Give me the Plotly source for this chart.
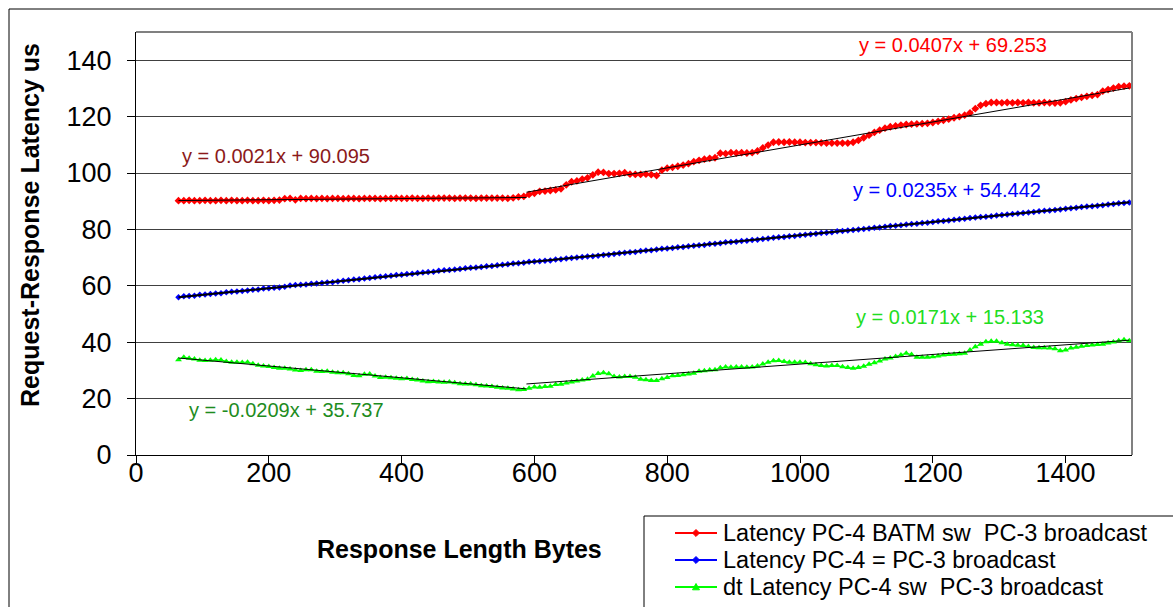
import plotly.graph_objects as go

# Response length in bytes (one sample every 8 bytes)
response_bytes = list(range(64, 1497, 8))

# Latency PC-4 BATM sw  PC-3 broadcast
latency_batm = [
    90.2, 90.2, 90.3, 90.2, 90.2, 90.3, 90.2, 90.2, 90.3, 90.2,
    90.3, 90.2, 90.2, 90.3, 90.2, 90.2, 90.3, 90.2, 90.3, 90.4,
    90.9, 91.0, 90.5, 91.0, 90.9, 91.0, 90.9, 91.0, 90.9, 91.0,
    91.0, 90.9, 91.0, 91.0, 90.9, 91.0, 91.0, 91.0, 90.9, 91.0,
    91.0, 91.1, 91.0, 91.0, 91.1, 91.0, 91.0, 91.1, 91.0, 91.1,
    91.1, 91.1, 91.0, 91.1, 91.1, 91.1, 91.0, 91.1, 91.1, 91.1,
    91.1, 91.1, 91.0, 91.2, 91.5, 91.7, 92.4, 92.8, 93.5, 93.6,
    93.8, 94.0, 94.4, 95.8, 96.9, 97.2, 97.8, 98.3, 99.3, 100.3,
    100.2, 99.8, 99.8, 99.9, 100.1, 99.6, 99.5, 99.5, 99.6, 99.4,
    99.1, 101.0, 101.7, 102.0, 102.4, 102.8, 103.3, 104.0, 104.5, 104.9,
    105.2, 105.4, 107.0, 106.9, 107.2, 107.1, 107.2, 107.1, 107.2, 107.8,
    108.9, 109.9, 110.9, 111.0, 110.9, 111.0, 110.9, 110.9, 110.8, 110.8,
    110.8, 110.7, 110.6, 110.6, 110.6, 110.6, 110.6, 110.9, 111.6, 112.5,
    113.4, 114.4, 115.2, 115.9, 116.4, 116.7, 117.0, 117.2, 117.3, 117.4,
    117.5, 117.6, 117.9, 118.3, 118.7, 119.1, 119.6, 120.0, 120.5, 121.3,
    122.8, 124.0, 124.6, 125.0, 125.0, 124.9, 125.0, 124.9, 125.0, 124.9,
    125.0, 124.9, 124.9, 125.0, 124.9, 124.8, 124.9, 125.3, 125.9, 126.4,
    126.8, 127.2, 127.5, 127.8, 129.0, 129.6, 130.1, 130.6, 130.8, 130.9,
]

# Latency PC-4 = PC-3 broadcast
latency_direct = [
    55.9, 56.3, 56.4, 56.5, 56.8, 56.9, 57.1, 57.3, 57.4, 57.7,
    57.9, 58.0, 58.2, 58.3, 58.6, 58.7, 59.0, 59.1, 59.3, 59.4,
    59.7, 60.1, 60.3, 60.4, 60.5, 60.7, 60.8, 61.0, 61.2, 61.3,
    61.5, 61.8, 62.0, 62.2, 62.3, 62.6, 62.8, 63.0, 63.2, 63.4,
    63.6, 63.8, 63.9, 64.2, 64.3, 64.5, 64.7, 64.9, 65.0, 65.3,
    65.5, 65.6, 65.8, 66.0, 66.2, 66.4, 66.5, 66.7, 66.9, 67.0,
    67.3, 67.5, 67.6, 67.9, 68.0, 68.2, 68.5, 68.6, 68.7, 68.9,
    69.0, 69.3, 69.4, 69.7, 69.9, 70.0, 70.2, 70.4, 70.5, 70.7,
    70.9, 71.0, 71.3, 71.5, 71.7, 71.9, 72.0, 72.3, 72.5, 72.6,
    72.9, 73.1, 73.2, 73.4, 73.7, 73.8, 74.0, 74.2, 74.4, 74.5,
    74.8, 74.9, 75.1, 75.4, 75.5, 75.6, 75.9, 76.0, 76.2, 76.3,
    76.6, 76.8, 77.0, 77.2, 77.3, 77.6, 77.7, 77.9, 78.1, 78.3,
    78.5, 78.7, 78.8, 79.0, 79.3, 79.4, 79.6, 79.8, 80.0, 80.1,
    80.3, 80.6, 80.7, 80.9, 81.2, 81.3, 81.5, 81.7, 81.9, 82.0,
    82.3, 82.4, 82.6, 82.9, 83.0, 83.2, 83.4, 83.6, 83.8, 84.0,
    84.2, 84.4, 84.5, 84.7, 84.9, 85.1, 85.3, 85.5, 85.6, 85.8,
    86.0, 86.2, 86.4, 86.6, 86.7, 86.9, 87.1, 87.3, 87.5, 87.7,
    87.9, 88.1, 88.2, 88.4, 88.6, 88.8, 89.0, 89.3, 89.4, 89.5,
]

# dt Latency PC-4 sw  PC-3 broadcast
latency_dt = [
    33.8, 34.7, 34.3, 34.0, 33.6, 33.5, 33.6, 33.8, 33.7, 33.2,
    32.9, 32.9, 32.8, 32.9, 32.4, 31.8, 31.6, 31.4, 31.0, 30.8,
    30.8, 30.5, 30.1, 30.0, 30.2, 30.2, 29.7, 29.6, 29.7, 29.3,
    29.2, 29.2, 28.8, 28.2, 28.1, 28.6, 28.7, 28.0, 27.5, 27.6,
    27.4, 27.2, 27.0, 27.1, 26.8, 26.6, 26.2, 26.0, 26.1, 25.9,
    25.8, 25.9, 25.6, 25.3, 25.2, 25.2, 24.9, 24.6, 24.5, 24.3,
    24.0, 23.8, 23.7, 23.4, 23.1, 23.2, 23.7, 24.1, 24.0, 24.3,
    24.4, 25.0, 25.1, 25.5, 25.9, 26.2, 26.6, 26.9, 28.0, 28.9,
    29.2, 28.8, 27.8, 27.7, 27.8, 27.8, 27.6, 26.9, 26.7, 26.4,
    26.4, 27.0, 27.5, 28.1, 28.2, 28.5, 28.7, 29.0, 29.7, 29.9,
    30.1, 30.2, 30.9, 31.2, 31.1, 31.2, 31.2, 31.1, 31.2, 31.6,
    32.3, 32.9, 33.4, 33.5, 33.2, 32.9, 32.9, 32.9, 32.8, 32.4,
    32.0, 31.7, 31.6, 31.7, 31.7, 31.3, 31.0, 30.8, 31.0, 31.5,
    32.2, 32.7, 33.3, 34.0, 34.4, 34.9, 35.5, 36.1, 35.6, 34.7,
    34.7, 34.7, 34.8, 35.1, 35.5, 35.6, 35.7, 35.9, 36.1, 37.2,
    38.4, 39.3, 40.2, 40.3, 40.3, 39.8, 39.3, 39.1, 38.9, 38.8,
    38.5, 38.1, 38.0, 38.0, 37.9, 37.7, 37.0, 37.2, 37.9, 38.2,
    38.6, 38.8, 39.0, 39.2, 39.3, 39.7, 40.1, 40.5, 40.9, 40.5,
]

series_names = [
    "Latency PC-4 BATM sw  PC-3 broadcast",
    "Latency PC-4 = PC-3 broadcast",
    "dt Latency PC-4 sw  PC-3 broadcast",
]
series_colors = ["#FF0000", "#0000FF", "#00FF00"]
series_symbols = ["diamond", "diamond", "triangle"]

# Linear fits: (slope, intercept, x_start, x_end)
fit_batm_low = (0.0021, 90.095, 64, 588)
fit_batm_high = (0.0407, 69.253, 588, 1496)
fit_direct = (0.0235, 54.442, 64, 1496)
fit_dt_low = (-0.0209, 35.737, 64, 588)
fit_dt_high = (0.0171, 15.133, 588, 1496)

x_ticks = [0, 200, 400, 600, 800, 1000, 1200, 1400]
y_ticks = [0, 20, 40, 60, 80, 100, 120, 140]

FONT = "Liberation Sans, Arial, sans-serif"
W, H = 1173, 607
L, R, T, B = 136, 1132, 32, 455  # plot area in pixels


def px(xp):
    return (xp - L) / (R - L)


def py(yp):
    return (B - yp) / (B - T)


def fit_label(slope, intercept):
    sign = "+" if intercept >= 0 else "-"
    return f"y = {slope:g}x {sign} {abs(intercept):.3f}"


def symbol_path(kind, cx, cy, r):
    """Small legend marker as an SVG path in paper coordinates."""
    if kind == "diamond":
        pts = [(cx, cy - r), (cx + r, cy), (cx, cy + r), (cx - r, cy)]
    else:
        pts = [(cx, cy - r), (cx + r, cy + r * 0.8), (cx - r, cy + r * 0.8)]
    d = "M" + " L".join(f"{px(a):.5f},{py(b):.5f}" for a, b in pts) + " Z"
    return d


fig = go.Figure()

fig.add_trace(go.Scatter(
    x=response_bytes, y=latency_batm, name=series_names[0], mode="lines+markers",
    line=dict(color=series_colors[0], width=1),
    marker=dict(symbol="diamond", size=6, color=series_colors[0]),
))
fig.add_trace(go.Scatter(
    x=response_bytes, y=latency_direct, name=series_names[1], mode="lines+markers",
    line=dict(color=series_colors[1], width=1),
    marker=dict(symbol="diamond", size=5, color=series_colors[1]),
))
fig.add_trace(go.Scatter(
    x=response_bytes, y=latency_dt, name=series_names[2], mode="lines+markers",
    line=dict(color=series_colors[2], width=1),
    marker=dict(symbol="triangle-up", size=6, color=series_colors[2]),
))

for fit in [fit_batm_low, fit_batm_high, fit_direct, fit_dt_low, fit_dt_high]:
    slope, intercept, x0, x1 = fit
    fig.add_trace(go.Scatter(
        x=[x0, x1], y=[slope * x0 + intercept, slope * x1 + intercept],
        mode="lines", line=dict(color="#000000", width=2 if fit is fit_direct else 1),
        showlegend=False, hoverinfo="skip",
    ))

# Trendline equations
labels = [
    (fit_batm_low, 211, 105.9, "#8B1A1A"),
    (fit_batm_high, 1231, 145.3, "#FF0000"),
    (fit_direct, 1222, 93.8, "#0000FF"),
    (fit_dt_high, 1226, 49.0, "#22DD22"),
    (fit_dt_low, 226, 16.0, "#1E8C1E"),
]
for fit, ax, ay, col in labels:
    fig.add_annotation(
        x=ax, y=ay, xref="x", yref="y", text=fit_label(fit[0], fit[1]),
        showarrow=False, font=dict(family=FONT, size=20, color=col),
        xanchor="center", yanchor="middle",
    )

# Axis titles
fig.add_annotation(
    x=px(459), y=py(549), xref="paper", yref="paper", text="<b>Response Length Bytes</b>",
    showarrow=False, font=dict(family=FONT, size=25, color="#000000"),
    xanchor="center", yanchor="middle",
)
fig.add_annotation(
    x=px(30), y=py(225), xref="paper", yref="paper", text="<b>Request-Response Latency us</b>",
    showarrow=False, textangle=-90, font=dict(family=FONT, size=25, color="#000000"),
    xanchor="center", yanchor="middle",
)

shapes = [
    # plot area frame (top and right edges in grey)
    dict(type="line", xref="paper", yref="paper", x0=0, x1=1, y0=1, y1=1,
         line=dict(color="#808080", width=2)),
    dict(type="line", xref="paper", yref="paper", x0=1, x1=1, y0=0, y1=1,
         line=dict(color="#808080", width=2)),
    # chart frame
    dict(type="line", xref="paper", yref="paper", x0=px(9), x1=px(1180), y0=py(9), y1=py(9),
         line=dict(color="#000000", width=1)),
    dict(type="line", xref="paper", yref="paper", x0=px(9), x1=px(9), y0=py(9), y1=py(620),
         line=dict(color="#000000", width=1)),
    # legend box
    dict(type="rect", xref="paper", yref="paper", x0=px(644), x1=px(1185), y0=py(516), y1=py(625),
         line=dict(color="#000000", width=1), fillcolor="white", layer="below"),
]

# Legend entries: sample line, marker and label
legend_rows = [533, 560, 587]
for name, col, sym, row in zip(series_names, series_colors, series_symbols, legend_rows):
    shapes.append(dict(type="line", xref="paper", yref="paper",
                       x0=px(675), x1=px(717), y0=py(row), y1=py(row),
                       line=dict(color=col, width=2)))
    shapes.append(dict(type="path", xref="paper", yref="paper",
                       path=symbol_path(sym, 696, row, 3.5),
                       line=dict(color=col, width=1), fillcolor=col))
    fig.add_annotation(
        x=px(721), y=py(row), xref="paper", yref="paper", text=name,
        showarrow=False, font=dict(family=FONT, size=23.5, color="#000000"),
        xanchor="left", yanchor="middle",
    )

fig.update_layout(
    width=W, height=H,
    margin=dict(l=L, r=W - R, t=T, b=H - B, pad=0, autoexpand=False),
    paper_bgcolor="white", plot_bgcolor="white",
    font=dict(family=FONT, size=22, color="#000000"),
    shapes=shapes,
    showlegend=False,
    xaxis=dict(
        range=[0, 1500], tickvals=x_ticks, ticktext=[str(v) for v in x_ticks],
        showgrid=False, zeroline=False, showline=True, linecolor="#000000", linewidth=1,
        ticks="outside", ticklen=7, tickcolor="#000000", ticklabelstandoff=-13,
        tickfont=dict(family=FONT, size=27, color="#000000"),
    ),
    yaxis=dict(
        range=[0, 150], tickvals=y_ticks, ticktext=[str(v) for v in y_ticks],
        showgrid=True, gridcolor="#404040", gridwidth=1,
        zeroline=False, showline=True, linecolor="#000000", linewidth=1,
        ticks="outside", ticklen=8, tickcolor="#000000", ticklabelstandoff=10,
        tickfont=dict(family=FONT, size=27, color="#000000"),
    ),
)

fig.write_html("out.html")
